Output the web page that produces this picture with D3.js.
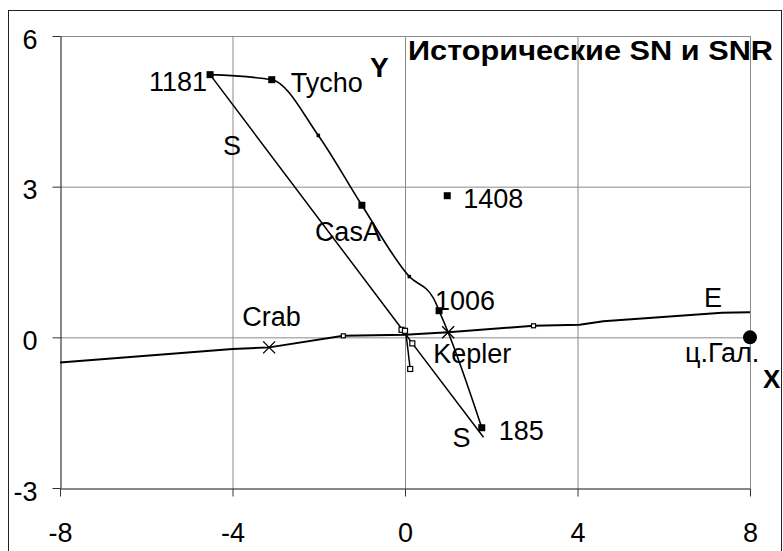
<!DOCTYPE html>
<html><head><meta charset="utf-8">
<script src="https://cdn.jsdelivr.net/npm/d3@7/dist/d3.min.js"></script>
<style>
html,body{margin:0;padding:0;background:#fff;}
svg text{font-family:"Liberation Sans",Arial,sans-serif;}
</style></head>
<body><svg id="c" width="783" height="551"></svg>
<script>
// ---- data ----
const xTicks = [-8, -4, 0, 4, 8];
const yTicks = [-3, 0, 3, 6];
const titleText = "Исторические SN и SNR";
// upper chain (smoothed) through historical SN
const upperX = [-4.52, -3.09, -2.01, -1.00, 0.10, 0.66, 0.79, 1.00, 1.78];
const upperY = [5.23, 5.13, 4.02, 2.63, 1.21, 0.78, 0.53, 0.10, -1.80];
// small dots on upper chain
const dotX = [-2.01, 0.10];
const dotY = [4.02, 1.21];
// named SN (filled squares)
const snNames = ["1181", "Tycho", "CasA", "1006", "185", "1408"];
const snX = [-4.52, -3.09, -1.00, 0.79, 1.78, 0.98];
const snY = [5.23, 5.13, 2.63, 0.53, -1.80, 2.82];
// crosses
const crossNames = ["Crab", "Kepler"];
const crossX = [-3.15, 1.00];
const crossY = [-0.20, 0.10];
// galactic equator E
const eX = [-8, -4, -3.15, -1.43, 0, 1.00, 2.98, 4.05, 4.60, 7.35, 8];
const eY = [-0.50, -0.23, -0.20, 0.03, 0.05, 0.10, 0.23, 0.25, 0.32, 0.49, 0.50];
const eMarkX = [-1.43, 2.98];
const eMarkY = [0.03, 0.23];
// S line
const sX = [-4.52, -0.05, 0.17, 1.82];
const sY = [5.23, 0.14, -0.12, -1.99];
// open squares near origin
const openX = [-0.08, 0.00, 0.17, 0.12];
const openY = [0.15, 0.13, -0.12, -0.63];
// short segment from origin
const shortX = [0.02, 0.12];
const shortY = [0.10, -0.63];
// galactic centre
const gcX = [8];
const gcY = [0];
const gcName = "ц.Гал.";

// ---- layout ----
const svg = d3.select("#c");
const L = 60, R = 750, T = 36, B = 488;
const FS = 27;
const x = d3.scaleLinear().domain([-8, 8]).range([L, R]);
const y = d3.scaleLinear().domain([-3, 6]).range([B, T]);
const pts = (xs, ys) => xs.map((v, i) => [x(v), y(ys[i])]);

// outer frame
svg.append("rect").attr("x", 8.5).attr("y", 10.5).attr("width", 773).attr("height", 600)
  .attr("fill", "none").attr("stroke", "#222").attr("stroke-width", 1);

// gridlines
svg.append("g").selectAll("line").data(xTicks.filter(d => d !== -8)).join("line")
  .attr("x1", d => x(d) + 0.5).attr("x2", d => x(d) + 0.5).attr("y1", T).attr("y2", B)
  .attr("stroke", "#8a8a8a").attr("stroke-width", 1);
svg.append("g").selectAll("line").data(yTicks.filter(d => d !== -3)).join("line")
  .attr("x1", L).attr("x2", R).attr("y1", d => y(d) + 0.5).attr("y2", d => y(d) + 0.5)
  .attr("stroke", "#8a8a8a").attr("stroke-width", 1);

// axes
const ax = svg.append("g").attr("transform", `translate(0,${B + 0.5})`)
  .call(d3.axisBottom(x).tickValues(xTicks).tickSize(8).tickSizeOuter(0));
const ay = svg.append("g").attr("transform", `translate(${L + 0.5},0)`)
  .call(d3.axisLeft(y).tickValues(yTicks).tickSize(8).tickSizeOuter(0));
[ax, ay].forEach(g => {
  g.select(".domain").attr("stroke", "#111");
  g.selectAll(".tick line").attr("stroke", "#333");
  g.selectAll("text").attr("font-size", FS).attr("fill", "#000")
    .attr("font-family", '"Liberation Sans",Arial,sans-serif');
});
ax.selectAll(".tick text").attr("y", 53).attr("dy", 0).text(d => String(d));
ay.selectAll(".tick text").attr("x", -23).attr("dy", 12).text(d => String(d));

// E line
svg.append("path").attr("d", d3.line()(pts(eX, eY)))
  .attr("fill", "none").attr("stroke", "#000").attr("stroke-width", 2);
// S line
svg.append("path").attr("d", d3.line()(pts(sX, sY)))
  .attr("fill", "none").attr("stroke", "#000").attr("stroke-width", 1.5);
// short segment
svg.append("path").attr("d", d3.line()(pts(shortX, shortY)))
  .attr("fill", "none").attr("stroke", "#000").attr("stroke-width", 1.5);
// upper chain
svg.append("path").attr("d", d3.line().curve(d3.curveMonotoneX)(pts(upperX, upperY)))
  .attr("fill", "none").attr("stroke", "#000").attr("stroke-width", 1.6);

// markers
const sq = (g, data, s, fill) => g.selectAll(null).data(data).join("rect")
  .attr("x", d => d[0] - s / 2).attr("y", d => d[1] - s / 2).attr("width", s).attr("height", s)
  .attr("fill", fill ? "#000" : "#fff").attr("stroke", "#000").attr("stroke-width", fill ? 0 : 1.2);
const mg = svg.append("g");
sq(mg, pts(snX, snY), 7, true);
sq(mg, pts(dotX, dotY), 3.5, true);
sq(mg, pts(eMarkX, eMarkY), 4, false);
sq(mg, pts(openX, openY), 5, false);
mg.selectAll(null).data(pts(crossX, crossY)).join("path")
  .attr("d", d => `M${d[0]-6},${d[1]-6}L${d[0]+6},${d[1]+6}M${d[0]-6},${d[1]+6}L${d[0]+6},${d[1]-6}`)
  .attr("stroke", "#000").attr("stroke-width", 1.4);
mg.selectAll(null).data(pts(gcX, gcY)).join("circle")
  .attr("cx", d => d[0]).attr("cy", d => d[1]).attr("r", 7).attr("fill", "#000");

// labels (pixel offsets from their points)
const snOff = {"1181": [-3, 16, "end"], "Tycho": [19, 12, "start"], "CasA": [-47, 36, "start"],
  "1006": [-4, -1, "start"], "185": [17, 12, "start"], "1408": [16, 12, "start"]};
const lab = svg.append("g").attr("font-size", FS).attr("fill", "#000");
snNames.forEach((n, i) => {
  const o = snOff[n];
  lab.append("text").attr("x", x(snX[i]) + o[0]).attr("y", y(snY[i]) + o[1])
    .attr("text-anchor", o[2]).text(n);
});
const crOff = {"Crab": [-27, -21], "Kepler": [-15, 31]};
crossNames.forEach((n, i) => {
  lab.append("text").attr("x", x(crossX[i]) + crOff[n][0]).attr("y", y(crossY[i]) + crOff[n][1]).text(n);
});
lab.append("text").attr("x", x(gcX[0]) - 65).attr("y", y(gcY[0]) + 25).text(gcName);
lab.append("text").attr("x", x(eX[eX.length - 1]) - 46).attr("y", y(eY[eY.length - 1]) - 5).text("E");
lab.append("text").attr("x", x(sX[0]) + 13).attr("y", y(sY[0]) + 80).text("S");
lab.append("text").attr("x", x(sX[3]) - 31).attr("y", y(sY[3]) + 10).text("S");

// titles
svg.append("text").attr("x", 408).attr("y", 60).attr("font-size", 27).attr("font-weight", "bold")
  .attr("textLength", 365).attr("lengthAdjust", "spacingAndGlyphs").text(titleText);
svg.append("text").attr("x", 370).attr("y", 77).attr("font-size", 28).attr("font-weight", "bold").text("Y");
svg.append("text").attr("x", 763).attr("y", 388).attr("font-size", 26).attr("font-weight", "bold").text("X");
</script></body></html>
